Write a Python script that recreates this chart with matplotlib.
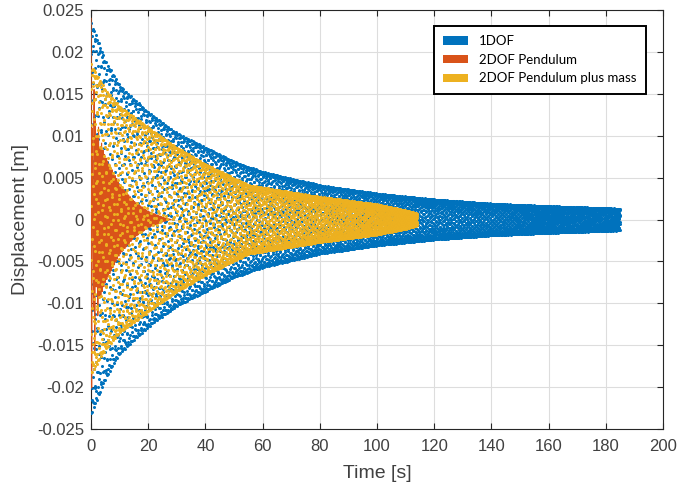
import numpy as np
import matplotlib

matplotlib.use("Agg")
import matplotlib.pyplot as plt
from matplotlib.patches import Patch
from matplotlib.ticker import FuncFormatter

# envelope of each response (time [s], amplitude [m])
T_1DOF = [0, 5, 10, 20, 30, 40, 50, 60, 80, 100, 120, 140, 160, 185]
A_1DOF = [0.0235, 0.019, 0.016, 0.0128, 0.0103, 0.0086, 0.0069, 0.0057,
          0.0041, 0.0031, 0.0024, 0.0019, 0.0016, 0.0013]

T_PEND = [0, 2, 5, 10, 15, 20, 25, 28]
A_PEND = [0.012, 0.0105, 0.0075, 0.0042, 0.0022, 0.001, 0.0003, 0.0]
# short fast mode at the start of the pendulum case (the spikes)
T_SPIKE = [0, 0.5, 1, 2, 4]
A_SPIKE = [0.012, 0.011, 0.006, 0.002, 0.0]

T_MASS = [0, 5, 10, 20, 30, 40, 55, 80, 100, 110, 114]
A_MASS = [0.0185, 0.0155, 0.0135, 0.011, 0.0086, 0.0066, 0.0041,
          0.0027, 0.0018, 0.0011, 0.0007]

# dotted runs: sample step [s] and phase advance per sample [cycles]
# (the oscillation is far faster than the sampling, so dots scatter)
DT_1DOF, STEP_1DOF = 0.03, 0.618034
DT_MASS, STEP_MASS = 0.028, 0.381966
# pendulum run is drawn as a line: two modes [Hz]
F_PEND, F_SPIKE, DT_PEND = 1.9, 2.7, 0.005

LABELS = ["1DOF", "2DOF Pendulum", "2DOF Pendulum plus mass"]
COLORS = ["#0072BD", "#D95319", "#EDB120"]

X_TICKS = list(range(0, 201, 20))
Y_TICKS = [-0.025, -0.02, -0.015, -0.01, -0.005, 0, 0.005, 0.01, 0.015, 0.02, 0.025]


def response(T, A, f, dt):
    t = np.arange(T[0], T[-1], dt)
    return t, np.interp(t, T, A) * np.cos(2 * np.pi * f * t)


plt.rcParams["font.family"] = ["Liberation Sans", "DejaVu Sans"]
fig = plt.figure(figsize=(6.77, 4.84), dpi=100)
ax = fig.add_axes([91 / 677, 55 / 484, 572 / 677, 419 / 484])

t1, y1 = response(T_1DOF, A_1DOF, STEP_1DOF / DT_1DOF, DT_1DOF)
ax.plot(t1, y1, "o", ms=2.2, mew=0, color=COLORS[0], zorder=3)

tp, yp = response(T_PEND, A_PEND, F_PEND, DT_PEND)
yp = yp + np.interp(tp, T_SPIKE, A_SPIKE) * np.cos(2 * np.pi * F_SPIKE * tp)
ax.plot(tp, yp, "-", lw=0.8, color=COLORS[1], zorder=4)

t3, y3 = response(T_MASS, A_MASS, STEP_MASS / DT_MASS, DT_MASS)
ax.plot(t3, y3, "o", ms=2.2, mew=0, color=COLORS[2], zorder=5)

ax.set_xlim(0, 200)
ax.set_ylim(-0.025, 0.025)
ax.set_xticks(X_TICKS)
ax.set_yticks(Y_TICKS)
ax.yaxis.set_major_formatter(FuncFormatter(lambda v, p: f"{round(v, 4):g}" if abs(v) > 1e-9 else "0"))
ax.tick_params(direction="in", length=4, width=0.8, top=True, right=True,
               labelsize=12, colors="#262626", labelcolor="#404040")
ax.tick_params(axis="x", pad=7)
ax.tick_params(axis="y", pad=5)
ax.grid(True, color="#dddddd", lw=0.8)
ax.set_axisbelow(True)
for s in ax.spines.values():
    s.set_color("#262626")
    s.set_linewidth(0.8)

ax.set_xlabel("Time [s]", fontsize=14, color="#404040", labelpad=8)
ax.set_ylabel("Displacement [m]", fontsize=14, color="#404040", labelpad=6)

handles = [Patch(facecolor=c, edgecolor="none") for c in COLORS]
leg = ax.legend(handles, LABELS, loc="upper right", bbox_to_anchor=(0.970, 0.962),
                borderaxespad=0, fancybox=False, framealpha=1, edgecolor="black",
                prop={"family": "Lato", "size": 9.5}, handlelength=1.9,
                handleheight=0.6, handletextpad=0.85, labelspacing=0.5,
                borderpad=0.7)
leg.get_frame().set_linewidth(1.4)

fig.savefig("out.png", dpi=100)
